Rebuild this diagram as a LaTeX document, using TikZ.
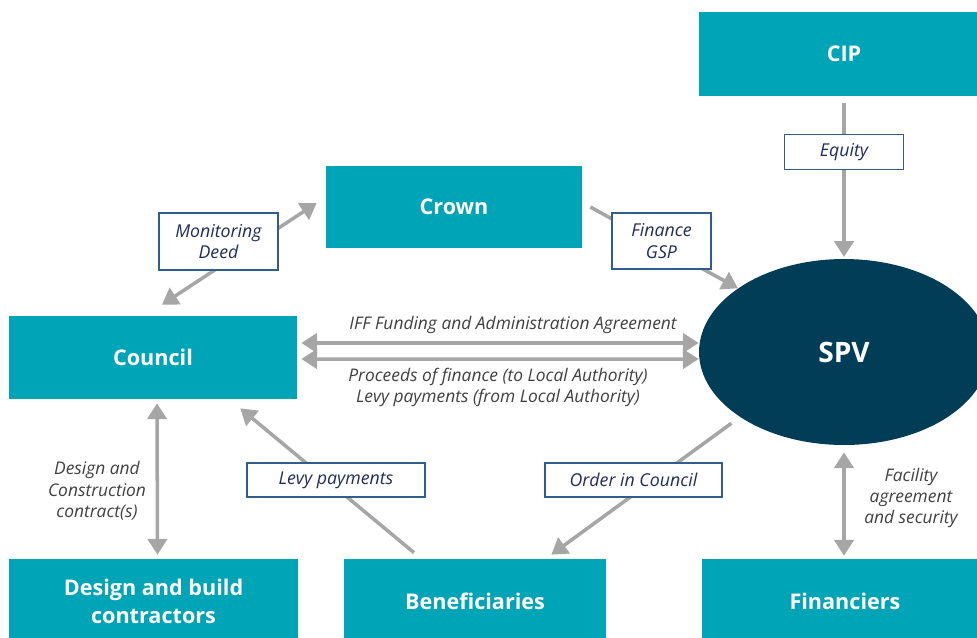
\documentclass[tikz,border=0pt]{standalone}
\usepackage{fontspec}
\setmainfont{Open Sans}
\usepackage{xcolor}
\usetikzlibrary{positioning,arrows.meta,backgrounds,shapes.geometric}
\definecolor{boxteal}{HTML}{00A4B7}
\definecolor{spvnavy}{HTML}{023D57}
\definecolor{flowgray}{HTML}{A6A6A6}
\definecolor{tagblue}{HTML}{2E5D8E}
\definecolor{tagtext}{HTML}{1F2D5A}
\definecolor{notegray}{HTML}{404040}
\tikzset{
  party/.style={fill=boxteal, text=white, font=\bfseries\fontsize{12.3}{16}\selectfont,
    align=center, inner sep=0pt},
  tag/.style={draw=tagblue, fill=white, line width=0.8pt, text=tagtext,
    font=\itshape\fontsize{10.1}{12.4}\selectfont, align=center, inner sep=0pt},
  note/.style={text=notegray, font=\itshape\fontsize{9.9}{12.2}\selectfont, align=center},
  flow/.style={draw=flowgray, line width=2pt, -{Triangle[width=11pt,length=9pt]}},
  biflow/.style={flow, {Triangle[width=11pt,length=9pt]}-{Triangle[width=11pt,length=9pt]}}
}

\begin{document}
\begin{tikzpicture}[x=0.02cm, y=-0.02cm]
\useasboundingbox (0,0) rectangle (977,637);
\clip (0,0) rectangle (977,637);

% parties
\node[party, minimum width=5.8cm, minimum height=1.68cm] (cip) at (844,54) {CIP};
\node[party, minimum width=5.12cm, minimum height=1.64cm] (crown) at (454,207) {Crown};
\node[party, minimum width=5.76cm, minimum height=1.66cm] (council) at (153,357.5) {Council};
\node[ellipse, fill=spvnavy, text=white, inner sep=0pt, minimum width=5.8cm,
  minimum height=3.72cm, font=\bfseries\fontsize{16}{18}\selectfont] (spv) at (844,352) {SPV};
\node[party, minimum width=5.78cm, minimum height=1.68cm] (contractors) at (153.5,601)
  {Design and build\\contractors};
\node[party, minimum width=5.24cm, minimum height=1.68cm] (beneficiaries) at (475,601) {Beneficiaries};
\node[party, minimum width=5.72cm, minimum height=1.68cm] (financiers) at (845,601) {Financiers};

% agreements
\node[tag, minimum width=2.38cm, minimum height=0.7cm] (equity) at (844,152) {Equity};
\node[tag, minimum width=2.38cm, minimum height=1.14cm] (deed) at (218.5,241.5) {Monitoring\\Deed};
\node[tag, minimum width=1.98cm, minimum height=1.12cm] (gsp) at (661.5,241) {Finance\\GSP};
\node[tag, minimum width=3.56cm, minimum height=0.68cm] (levy) at (336,480) {Levy payments};
\node[tag, minimum width=3.54cm, minimum height=0.68cm] (order) at (633.5,480) {Order in Council};

\node[note] (iff) at (513,325) {IFF Funding and Administration Agreement};
\node[note] (proceeds) at (498,387.5) {Proceeds of finance (to Local Authority)\\Levy payments (from Local Authority)};
\node[note] (construction) at (97,491) {Design and\\Construction\\contract(s)};
\node[note] (facility) at (911,498) {Facility\\agreement\\and security};

\begin{pgfonlayer}{background}
\draw[flow, shorten >=1pt] (cip.south -| equity) ++(0,7) -- (spv.north -| equity);
\draw[flow] (crown.east) ++(8,0) -- (spv.149);
\draw[biflow] ([shift={(9,-11)}]council.north) -- ([shift={(-9,-4)}]crown.west);
\draw[biflow] ([shift={(4,-14.5)}]council.east) -- ([shift={(0,-9)}]spv.west);
\draw[biflow] ([shift={(4,1.5)}]council.east) -- ([shift={(0,7)}]spv.west);
\draw[biflow] ([shift={(4,4)}]council.south) -- ([shift={(4,-4)}]contractors.north);
\draw[flow] ([shift={(-61,-6)}]beneficiaries.north) -- ([shift={(-57,9)}]council.south east);
\draw[flow, shorten <=6pt] (spv.212) -- ([shift={(-55,-4)}]beneficiaries.north east);
\draw[biflow] ([shift={(0,7)}]spv.south) -- ([shift={(-1,-3)}]financiers.north);
\end{pgfonlayer}
\end{tikzpicture}
\end{document}
